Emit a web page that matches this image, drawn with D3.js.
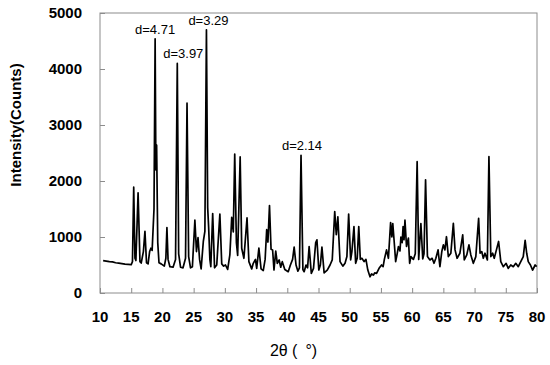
<!DOCTYPE html>
<html>
<head>
<meta charset="utf-8">
<script src="https://cdn.jsdelivr.net/npm/d3@7"></script>
<style>
  body { margin: 0; background: #fff; }
  svg { display: block; }
  .tick-label { font-family: "Liberation Sans", Arial, sans-serif; font-weight: bold; font-size: 15px; fill: #000; }
  .axis-title { font-family: "Liberation Sans", Arial, sans-serif; font-weight: bold; font-size: 15px; fill: #000; }
  .note { font-family: "Liberation Sans", Arial, sans-serif; font-size: 13px; fill: #000; }
</style>
</head>
<body>
<div id="chart"></div>
<script>
// 2theta (degrees) and intensity (counts)
const twoTheta = [
  10.5, 11.0, 11.5, 12.0, 12.5, 13.0, 13.5, 14.0, 14.5, 15.0,
  15.2, 15.4, 15.6, 15.75, 16.1, 16.4, 16.6, 16.95, 17.2, 17.45,
  17.7, 17.95, 18.15, 18.35, 18.65, 18.83, 18.95, 19.07, 19.25, 19.45,
  19.8, 20.3, 20.55, 20.72, 20.9, 21.2, 21.7, 22.1, 22.38, 22.6,
  22.9, 23.3, 23.7, 23.94, 24.2, 24.5, 24.8, 25.2, 25.45, 25.7,
  25.95, 26.2, 26.55, 26.8, 27.05, 27.25, 27.4, 27.6, 27.75, 28.05,
  28.35, 28.7, 29.2, 29.5, 29.8, 30.1, 30.45, 30.8, 31.1, 31.35,
  31.58, 31.85, 32.05, 32.45, 32.7, 33.05, 33.55, 33.85, 34.3, 34.55,
  34.9, 35.1, 35.45, 35.8, 36.15, 36.45, 36.7, 36.9, 37.15, 37.4,
  37.65, 37.87, 38.15, 38.4, 38.7, 38.95, 39.2, 39.6, 40.15, 40.5,
  40.85, 41.1, 41.4, 41.7, 41.95, 42.2, 42.5, 42.7, 43.0, 43.25,
  43.5, 43.85, 44.2, 44.55, 44.75, 45.05, 45.3, 45.55, 45.9, 46.4,
  46.85, 47.2, 47.6, 47.85, 48.1, 48.45, 48.9, 49.25, 49.55, 49.83,
  50.15, 50.35, 50.68, 50.95, 51.2, 51.45, 51.7, 51.95, 52.3, 52.6,
  52.9, 53.25, 53.5, 53.8, 54.0, 54.3, 54.7, 55.1, 55.35, 55.55,
  55.9, 56.2, 56.55, 56.75, 56.9, 57.1, 57.36, 57.6, 57.8, 58.05,
  58.2, 58.4, 58.55, 58.7, 58.85, 59.1, 59.4, 59.6, 59.8, 60.2,
  60.5, 60.8, 61.05, 61.4, 61.7, 61.9, 62.15, 62.45, 62.85, 63.2,
  63.5, 63.8, 64.15, 64.45, 64.75, 65.0, 65.25, 65.5, 65.8, 66.2,
  66.6, 66.87, 67.2, 67.65, 68.1, 68.35, 68.75, 69.1, 69.4, 69.8,
  70.2, 70.65, 70.88, 71.15, 71.4, 71.67, 72.05, 72.3, 72.6, 72.9,
  73.15, 73.5, 73.85, 74.2, 74.6, 75.05, 75.4, 75.8, 76.2, 76.6,
  77.0, 77.4, 77.8, 78.1, 78.35, 78.6, 78.95, 79.3, 79.7, 79.95
];
const counts = [
  577, 570, 560, 555, 540, 535, 525, 515, 510, 505,
  560, 1890, 620, 580, 1790, 560, 535, 740, 1100, 540,
  520, 740, 800, 760, 1500, 4540, 2200, 2640, 900, 540,
  520, 480, 620, 1170, 600, 470, 460, 600, 4100, 700,
  460, 450, 620, 3390, 650, 450, 470, 1300, 740, 990,
  600, 430, 920, 1100, 4700, 1520, 1180, 600, 470, 1420,
  450, 500, 1410, 520, 480, 500, 420, 680, 1350, 1090,
  2480, 900, 670, 2430, 800, 620, 1340, 560, 430, 530,
  600, 440, 800, 430, 400, 600, 1130, 910, 1560, 780,
  768, 410, 750, 530, 590, 460, 560, 420, 380, 500,
  600, 820, 500, 390, 450, 2460, 420, 380, 500, 450,
  830, 350, 440, 900, 950, 410, 500, 820, 360, 410,
  500, 590, 1455, 1040, 1360, 560, 480, 530, 650, 1410,
  590, 740, 1185, 530, 620, 1185, 600, 620, 560, 600,
  410, 290, 340, 320, 360, 350, 440, 500, 470, 600,
  770, 620, 1256, 1000, 1240, 950, 560, 700, 830, 750,
  1000, 900, 1185, 950, 1300, 830, 980, 530, 650, 600,
  700, 2345, 600, 1240, 610, 700, 2020, 650, 590, 620,
  530, 620, 770, 470, 740, 860, 770, 1005, 650, 710,
  1245, 770, 620, 710, 1040, 590, 680, 860, 680, 530,
  650, 1335, 710, 740, 620, 710, 590, 2435, 650, 710,
  620, 770, 920, 560, 470, 530, 440, 500, 470, 530,
  470, 560, 650, 940, 710, 560, 500, 410, 500, 470
];

const xTicks = [10, 15, 20, 25, 30, 35, 40, 45, 50, 55, 60, 65, 70, 75, 80];
const yTicks = [0, 1000, 2000, 3000, 4000, 5000];

// labelled reflections
const noteTheta = [18.83, 22.38, 27.05, 42.2];
const noteCounts = [4540, 4100, 4700, 2460];
const noteText = ["d=4.71", "d=3.97", "d=3.29", "d=2.14"];

const width = 550, height = 365;
const margin = {top: 13, right: 13, bottom: 72, left: 100};

const svg = d3.select("#chart").append("svg")
  .attr("width", width)
  .attr("height", height);

const x = d3.scaleLinear().domain([10, 80]).range([margin.left, width - margin.right]);
const y = d3.scaleLinear().domain([0, 5000]).range([height - margin.bottom, margin.top]);

// frame
svg.append("rect")
  .attr("x", x(10)).attr("y", y(5000))
  .attr("width", x(80) - x(10)).attr("height", y(0) - y(5000))
  .attr("fill", "none").attr("stroke", "#8c8c8c").attr("stroke-width", 1);

// inward ticks
const xAxis = svg.append("g")
  .attr("transform", `translate(0,${y(0)})`)
  .call(d3.axisTop(x).tickValues(xTicks).tickSize(5).tickFormat(""));
xAxis.select(".domain").remove();
xAxis.selectAll("line").attr("stroke", "#8c8c8c");

const yAxis = svg.append("g")
  .attr("transform", `translate(${x(10)},0)`)
  .call(d3.axisRight(y).tickValues(yTicks).tickSize(5).tickFormat(""));
yAxis.select(".domain").remove();
yAxis.selectAll("line").attr("stroke", "#8c8c8c");

// tick labels
svg.selectAll(".xlab").data(xTicks).enter().append("text")
  .attr("class", "tick-label")
  .attr("x", d => x(d))
  .attr("y", y(0) + 29)
  .attr("text-anchor", "middle")
  .text(d => d);

svg.selectAll(".ylab").data(yTicks).enter().append("text")
  .attr("class", "tick-label")
  .attr("x", x(10) - 18)
  .attr("y", d => y(d) + 5)
  .attr("text-anchor", "end")
  .text(d => d);

// axis titles
svg.append("text")
  .attr("class", "axis-title")
  .attr("transform", "translate(21,125) rotate(-90)")
  .attr("text-anchor", "middle")
  .text("Intensity(Counts)");

svg.append("text")
  .attr("class", "axis-title")
  .style("font-weight", "normal")
  .style("font-size", "16px")
  .attr("x", x(41))
  .attr("y", y(0) + 63)
  .attr("text-anchor", "middle")
  .text("2θ (\u2002°)");

// pattern
const pts = twoTheta.map((t, i) => [t, counts[i]]);
svg.append("path")
  .datum(pts)
  .attr("fill", "none")
  .attr("stroke", "#000")
  .attr("stroke-width", 1.7)
  .attr("stroke-linejoin", "round")
  .attr("d", d3.line().x(d => x(d[0])).y(d => y(d[1])));

// peak notes
const noteDx = [0, 6, 2, 1];
svg.selectAll(".note").data(noteText).enter().append("text")
  .attr("class", "note")
  .attr("x", (d, i) => x(noteTheta[i]) + noteDx[i])
  .attr("y", (d, i) => y(noteCounts[i]) - 5)
  .attr("text-anchor", "middle")
  .text(d => d);
</script>
</body>
</html>
